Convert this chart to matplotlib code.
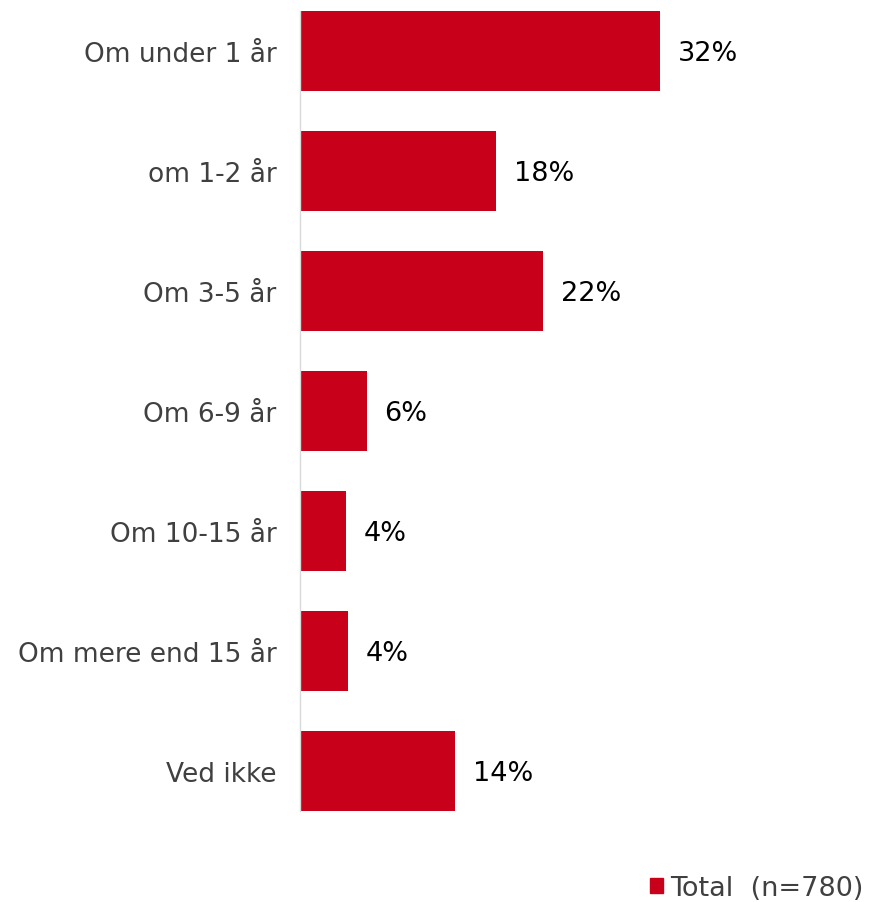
import matplotlib.pyplot as plt
from matplotlib.patches import Patch

categories = ['Om under 1 år', 'om 1-2 år', 'Om 3-5 år', 'Om 6-9 år',
              'Om 10-15 år', 'Om mere end 15 år', 'Ved ikke']
values = [32.4, 17.7, 21.9, 6.0, 4.1, 4.3, 14.0]
labels = ['32%', '18%', '22%', '6%', '4%', '4%', '14%']

W, H = 869, 903
fig = plt.figure(figsize=(W / 100, H / 100), dpi=100)
ax = fig.add_axes([300 / W, 1 - 812 / H, 555 / W, 800 / H])

red = '#C8001A'
ypos = list(range(len(categories)))
ax.barh(ypos, values, height=0.667, color=red)
ax.set_ylim(len(categories) - 1 + 0.3335, -0.3335)
ax.set_xlim(0, 50)

for y, v, lab in zip(ypos, values, labels):
    ax.annotate(lab, (v, y), xytext=(18, -2), textcoords='offset pixels',
                va='center', ha='left', fontsize=19.5, color='black')

ax.set_yticks(ypos)
ax.set_yticklabels(categories, fontsize=19, color='#404040')
ax.tick_params(axis='y', length=0, pad=17)
ax.set_xticks([])
for s in ['top', 'right', 'bottom']:
    ax.spines[s].set_visible(False)
ax.spines['left'].set_color('#d9d9d9')
ax.spines['left'].set_linewidth(1)

handle = Patch(color=red, label='Total  (n=780)')
fig.legend(handles=[handle], loc='center right',
           bbox_to_anchor=(864 / W, 1 - 889 / H),
           frameon=False, fontsize=19.5, labelcolor='#404040',
           borderpad=0, borderaxespad=0,
           handlelength=0.48, handleheight=0.48, handletextpad=0.3)

fig.savefig('out.png', dpi=100)
